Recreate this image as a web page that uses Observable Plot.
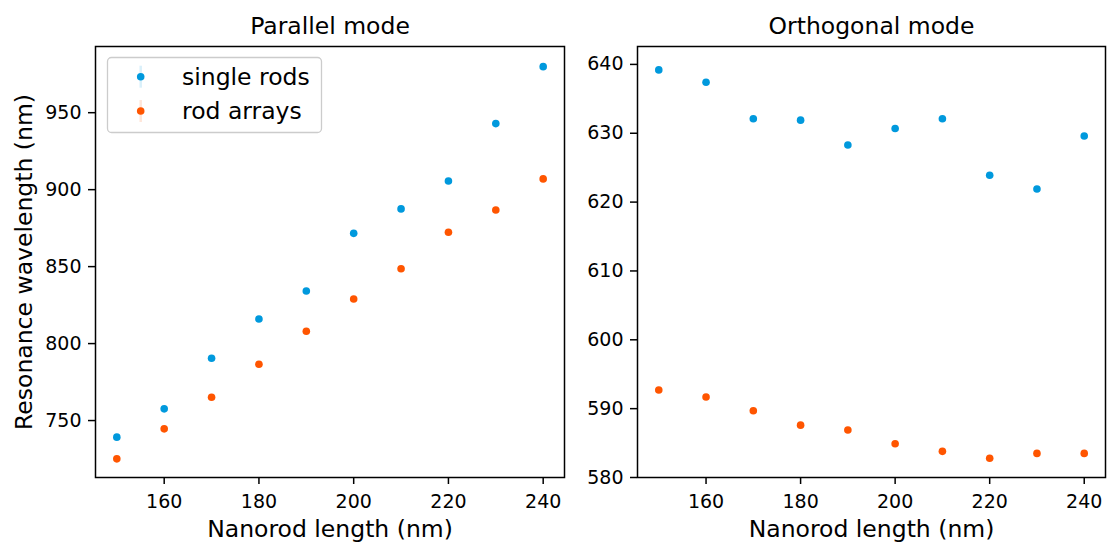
<!DOCTYPE html>
<html><head><meta charset="utf-8">
<script src="https://cdn.jsdelivr.net/npm/d3@7"></script>
<script src="https://cdn.jsdelivr.net/npm/@observablehq/plot@0.6"></script>
<style>
html,body{margin:0;padding:0;background:#fff;}
#chart{position:relative;width:1107px;height:542px;overflow:hidden;font-family:"DejaVu Sans";}
#chart svg{position:absolute;top:0;}
</style></head><body><div id="chart"></div>
<script>
// ---- data ----
const lengths = [150, 160, 170, 180, 190, 200, 210, 220, 230, 240];
const seriesNames = ["single rods", "rod arrays"];
const seriesColors = ["#0099dd", "#ff5500"];
const parallelSingle = [739.2, 757.6, 790.5, 816.0, 834.2, 871.6, 887.5, 905.6, 942.9, 979.9];
const parallelArrays = [725.1, 744.6, 765.1, 786.6, 808.0, 829.0, 848.6, 872.3, 886.8, 907.0];
const orthoSingle = [639.2, 637.4, 632.1, 631.9, 628.3, 630.7, 632.1, 623.9, 621.9, 629.6];
const orthoArrays = [592.7, 591.7, 589.7, 587.6, 586.9, 584.9, 583.8, 582.8, 583.5, 583.5];
const xTicks = [160, 180, 200, 220, 240];
const parallelYTicks = [750, 800, 850, 900, 950];
const orthoYTicks = [580, 590, 600, 610, 620, 630, 640];
const titles = ["Parallel mode", "Orthogonal mode"];
const xLabel = "Nanorod length (nm)";
const yLabel = "Resonance wavelength (nm)";

function rows(a, b) {
  return lengths.flatMap((x, i) => [
    {x, y: a[i], s: seriesNames[0]},
    {x, y: b[i], s: seriesNames[1]}
  ]);
}

function panel({title, data, yDomain, yTicks, width, marginLeft, marginRight, showYLabel}) {
  return Plot.plot({
    width, height: 542, marginTop: 46, marginBottom: 65, marginLeft, marginRight,
    style: {fontFamily: "DejaVu Sans", fontSize: "19px", color: "black", background: "white", overflow: "visible"},
    x: {domain: [145.5, 244.5]},
    y: {domain: yDomain},
    color: {domain: seriesNames, range: seriesColors},
    marks: [
      Plot.dot(data, {x: "x", y: "y", fill: "s", r: 3.8}),
      Plot.axisX({ticks: xTicks, tickSize: 7, tickPadding: 10, strokeWidth: 1.5, label: null, fontSize: 19}),
      Plot.axisY({ticks: yTicks, tickSize: 7, tickPadding: 7, strokeWidth: 1.5, label: null, fontSize: 19}),
      Plot.frame({stroke: "black", strokeWidth: 1.5}),
      Plot.text([title], {text: d => d, frameAnchor: "top", lineAnchor: "bottom", dy: -13, fontSize: 23.5}),
      Plot.text([xLabel], {text: d => d, frameAnchor: "bottom", lineAnchor: "bottom", dy: 59, fontSize: 23.5}),
      showYLabel ? Plot.text([yLabel], {text: d => d, frameAnchor: "left", textAnchor: "middle", rotate: -90, lineAnchor: "bottom", dx: -64, fontSize: 23.5}) : null
    ]
  });
}

const container = document.getElementById("chart");
const left = panel({title: titles[0], data: rows(parallelSingle, parallelArrays), yDomain: [713, 993],
  yTicks: parallelYTicks, width: 566, marginLeft: 95, marginRight: 2, showYLabel: true});
left.style.left = "0px";
const right = panel({title: titles[1], data: rows(orthoSingle, orthoArrays), yDomain: [580, 642.6],
  yTicks: orthoYTicks, width: 541, marginLeft: 71, marginRight: 2, showYLabel: false});
right.style.left = "566px";
container.appendChild(left);
container.appendChild(right);

// legend (inside the left panel)
const g = d3.select(left).append("g").attr("font-family", "DejaVu Sans");
g.append("rect").attr("x", 107.5).attr("y", 57.5).attr("width", 214).attr("height", 75)
  .attr("rx", 4).attr("fill", "white").attr("fill-opacity", 0.8)
  .attr("stroke", "#cccccc").attr("stroke-width", 1.3);
seriesNames.forEach((name, i) => {
  const cy = 76.7 + i * 34.3;
  g.append("line").attr("x1", 140.7).attr("x2", 140.7).attr("y1", cy - 11).attr("y2", cy + 11)
    .attr("stroke", seriesColors[i]).attr("stroke-opacity", 0.15).attr("stroke-width", 2.5);
  g.append("circle").attr("cx", 140.7).attr("cy", cy).attr("r", 3.8).attr("fill", seriesColors[i]);
  g.append("text").attr("x", 182).attr("y", cy + 8.3).attr("text-anchor", "start")
    .attr("font-size", 23.5).attr("fill", "black").text(name);
});
</script></body></html>
